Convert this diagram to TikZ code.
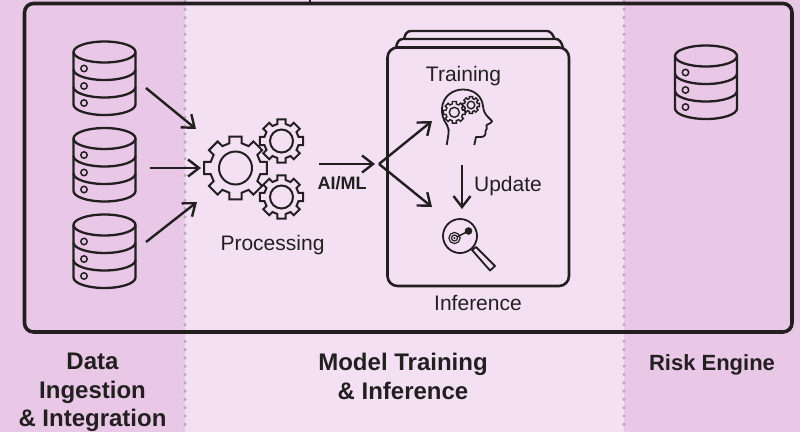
\documentclass[tikz,border=0pt]{standalone}
\usepackage{fontspec}
\setmainfont{Liberation Sans}
\usetikzlibrary{arrows.meta,calc}
\definecolor{ink}{HTML}{231F20}
\definecolor{pinkdark}{HTML}{E8C8E6}
\definecolor{pinklight}{HTML}{F3E1F3}
\definecolor{dotgrey}{HTML}{B9A8BA}
\newcommand{\gearpath}[5]{% cx cy outer root ring
  \draw[gearline] ($(#1,#2)+(-14:#4)$)
    \foreach \ga in {0,45,...,315} { -- ($(#1,#2)+(\ga-14:#4)$) -- ($(#1,#2)+(\ga-11:#3)$) -- ($(#1,#2)+(\ga+11:#3)$) -- ($(#1,#2)+(\ga+14:#4)$) } -- cycle;
  \draw[gearline] (#1,#2) circle (#5);
}
\tikzset{
  x=1pt,y=-1pt,
  gearline/.style={ink,line width=2pt,line join=miter},
  dbline/.style={ink,line width=2.3pt},
  flow/.style={ink,line width=2.4pt,-{Straight Barb[length=11pt,width=17pt,line width=2.4pt]}},
  divider/.style={dotgrey,line width=3.4pt,line cap=round,dash pattern=on 0pt off 8.3pt},
  lbl/.style={ink,font=\fontsize{21}{25}\selectfont,inner sep=0pt},
  head/.style={ink,font=\fontsize{24}{28.5}\selectfont\bfseries,inner sep=0pt,align=center,anchor=north},
  iconline/.style={ink,line width=1.8pt,line join=round},
  dbpic/.pic={
    \draw[dbline] (-31,0) -- (-31,52.5) arc[start angle=180,end angle=0,x radius=31,y radius=10.5] -- (31,0);
    \draw[dbline] (0,0) ellipse[x radius=31,y radius=10.5];
    \foreach \dy in {17.5,35} {
      \draw[dbline] (-31,\dy) arc[start angle=180,end angle=0,x radius=31,y radius=10.5];
    }
    \foreach \dy in {16.5,34,51} { \draw[ink,line width=1.5pt] (-20.5,\dy) circle (3.2); }
  }
}
\begin{document}
\begin{tikzpicture}
\useasboundingbox (0,0) rectangle (800,432);
% panels
\fill[pinkdark] (0,0) rectangle (185,432);
\fill[pinklight] (185,0) rectangle (624,432);
\fill[pinkdark] (624,0) rectangle (800,432);
\draw[divider] (185,1) -- (185,432);
\draw[divider] (624,1) -- (624,432);
% outer frame
\draw[ink,line width=3.6pt,rounded corners=9pt] (24.5,3.5) rectangle (792,332);
\draw[ink,line width=2pt] (310,0) -- (310,3);
% databases
\pic at (104.5,52) {dbpic};
\pic at (104.5,138.5) {dbpic};
\pic at (104.5,225) {dbpic};
\pic at (706,56) {dbpic};
% gears
\gearpath{235.5}{168}{32}{25.5}{16.5}
\gearpath{281.5}{141}{22}{17.5}{11.5}
\gearpath{281.5}{197}{22}{17.5}{11.5}
% stacked cards
\draw[ink,line width=2.4pt] (404,39) .. controls (405,34) and (407,31) .. (411,31) -- (547,31) .. controls (550,31) and (553,34) .. (554.5,39);
\draw[ink,line width=2.4pt] (396,47.5) .. controls (397,42) and (399,39) .. (403,39) -- (556,39) .. controls (559,39) and (561.5,42) .. (563,47.5);
\draw[ink,line width=2.6pt,rounded corners=10pt] (387.5,47.5) rectangle (569,286);
% head icon
\draw[iconline] (446.7,145) -- (448,137) .. controls (449,131) and (449,128) .. (447,125)
  .. controls (443,120) and (441.5,113) .. (442,108)
  .. controls (443,97) and (452,89.5) .. (463,89.5)
  .. controls (475,89.5) and (482,97) .. (483,106)
  .. controls (483.5,111) and (485,114) .. (488,117)
  -- (492,121) .. controls (492,123) and (488,124) .. (486.5,125)
  .. controls (487,128) and (487,130) .. (485.5,131)
  .. controls (486,134) and (485,137) .. (481,137)
  -- (476,137) -- (474.3,145);
\tikzset{gearline/.style={ink,line width=1.4pt,line join=miter}}
\gearpath{454.3}{112.3}{11}{8.6}{5}
\gearpath{471}{105}{8.5}{6.6}{3.8}
% lens icon
\draw[iconline] (460,236) circle (17);
\draw[iconline] (472,250) -- (476,247) -- (495,266) -- (490,270.5) -- cycle;
\fill[ink] (468.5,231) circle (3.8);
\draw[ink,line width=1.5pt] (468.5,231) -- (457,237);
\draw[ink,line width=1.2pt] (454.5,238) circle (5.6);
\draw[ink,line width=1.2pt] (454.5,238) circle (3);
\fill[ink] (454.5,238) circle (1.2);
% labels
\node[lbl] (training) at (463.5,76.5) {Training};
\node[lbl] (processing) at (272.5,245) {Processing};
\node[lbl] (update) at (508,186) {Update};
\node[lbl] (inference) at (478,303) {Inference};
\node[ink,inner sep=0pt,font=\fontsize{18}{20}\selectfont\bfseries] (aiml) at (342,183) {AI/ML};
\node[head] (h1) at (92.5,353) {Data\\Ingestion\\\& Integration};
\node[head] (h2) at (403,353) {Model Training\\\& Inference};
\node[head,font=\fontsize{22}{28.5}\selectfont\bfseries] (h3) at (712,354) {Risk Engine};
% arrows
\coordinate (s1) at (146,88); \coordinate (e1) at (196,129);
\coordinate (s2) at (150,168); \coordinate (e2) at (201,168);
\coordinate (s3) at (146,242); \coordinate (e3) at (197,202);
\coordinate (s4) at (319,164); \coordinate (e4) at (375,164);
\coordinate (br) at (379,164); \coordinate (e5) at (432,121); \coordinate (e6) at (432,207);
\coordinate (s7) at (462,165); \coordinate (e7) at (462,209);
\draw[flow] (s1) -- (e1);
\draw[flow] (s2) -- (e2);
\draw[flow] (s3) -- (e3);
\draw[flow] (s4) -- (e4);
\draw[flow] (br) -- (e5);
\draw[flow] (br) -- (e6);
\draw[flow] (s7) -- (e7);
\end{tikzpicture}
\end{document}
